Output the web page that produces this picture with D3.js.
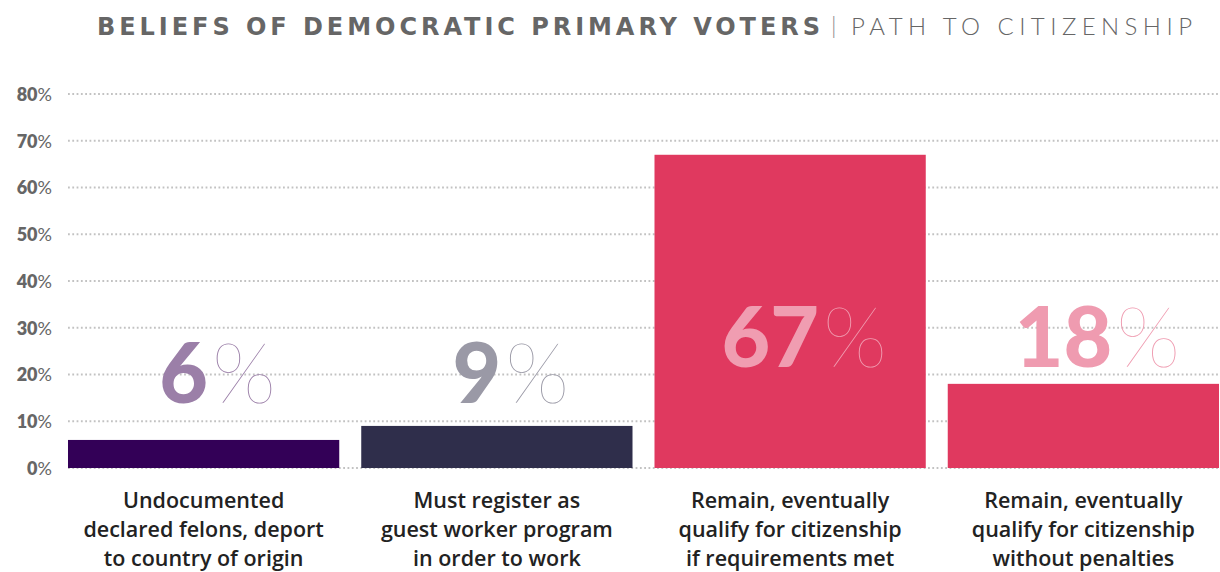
<!DOCTYPE html>
<html>
<head>
<meta charset="utf-8">
<script src="https://cdn.jsdelivr.net/npm/d3@7"></script>
<style>
  body { margin: 0; background: #fff; }
  svg { display: block; }
</style>
</head>
<body>
<svg id="chart"></svg>
<script>
// data
var categories = [
  ["Undocumented", "declared felons, deport", "to country of origin"],
  ["Must register as", "guest worker program", "in order to work"],
  ["Remain, eventually", "qualify for citizenship", "if requirements met"],
  ["Remain, eventually", "qualify for citizenship", "without penalties"]
];
var values = [6, 9, 67, 18];
var barColors = ["#330057", "#2f2e4b", "#e0395f", "#e0395f"];
var labelColors = ["#9b7fa8", "#9a99a6", "#f09db1", "#ef9bb0"];
var yTicks = [0, 10, 20, 30, 40, 50, 60, 70, 80];

var W = 1220, H = 572;
var svg = d3.select("#chart").attr("width", W).attr("height", H);

// scales
var x = d3.scaleBand()
  .domain(d3.range(values.length))
  .range([57, 1230])
  .paddingInner(0.075)
  .paddingOuter(0.0375);
var y = d3.scaleLinear().domain([0, 80]).range([468, 94]);

// title
svg.append("text")
  .attr("x", 97).attr("y", 35)
  .attr("font-family", "'DejaVu Sans', sans-serif")
  .attr("font-size", "24px")
  .attr("font-weight", 700)
  .attr("fill", "#666")
  .attr("textLength", 723).attr("lengthAdjust", "spacing")
  .text("BELIEFS OF DEMOCRATIC PRIMARY VOTERS");
svg.append("text")
  .attr("x", 831).attr("y", 34)
  .attr("font-family", "Lato, sans-serif").attr("font-weight", 300)
  .attr("font-size", "23px").attr("fill", "#888")
  .text("|");
svg.append("text")
  .attr("x", 851).attr("y", 35)
  .attr("font-family", "Lato, sans-serif").attr("font-weight", 300)
  .attr("font-size", "24px").attr("fill", "#666")
  .attr("textLength", 341).attr("lengthAdjust", "spacing")
  .text("PATH TO CITIZENSHIP");

// gridlines
svg.append("g")
  .selectAll("line")
  .data(yTicks)
  .join("line")
  .attr("x1", 68).attr("x2", 1220)
  .attr("y1", d => y(d)).attr("y2", d => y(d))
  .attr("stroke", "#c2c2c2")
  .attr("stroke-width", 2)
  .attr("stroke-dasharray", "1.8,2.5");

// y axis labels
var yAxis = d3.axisLeft(y).tickValues(yTicks).tickSize(0).tickPadding(0)
  .tickFormat(d => d);
var yg = svg.append("g").attr("transform", "translate(52,0)").call(yAxis);
yg.select(".domain").remove();
yg.selectAll("text")
  .attr("font-family", "Lato, sans-serif")
  .attr("font-size", "18px")
  .attr("font-weight", 800)
  .attr("fill", "#666")
  .attr("dy", "0.36em")
  .text(null)
  .each(function(d) {
    var t = d3.select(this);
    t.append("tspan").text(d);
    t.append("tspan").attr("font-weight", 400).text("%");
  });

// bars
svg.append("g")
  .selectAll("rect")
  .data(values)
  .join("rect")
  .attr("x", (d, i) => x(i))
  .attr("y", d => y(d))
  .attr("width", x.bandwidth())
  .attr("height", d => y(0) - y(d))
  .attr("fill", (d, i) => barColors[i]);

// value labels
var vl = svg.append("g")
  .selectAll("text")
  .data(values)
  .join("text")
  .attr("x", (d, i) => x(i) + x.bandwidth() / 2 + 14)
  .attr("y", (d, i) => i < 2 ? y(13.9) : y(21.6))
  .attr("text-anchor", "middle")
  .attr("font-family", "Lato, sans-serif")
  .attr("font-size", "84px")
  .attr("fill", (d, i) => labelColors[i]);
vl.append("tspan").attr("font-weight", 900).text(d => d);
vl.append("tspan").attr("font-weight", 100).attr("dx", 4).text("%");

// category labels
svg.append("g")
  .selectAll("text")
  .data(categories)
  .join("text")
  .attr("x", (d, i) => x(i) + x.bandwidth() / 2)
  .attr("y", 508)
  .attr("text-anchor", "middle")
  .attr("font-family", "'Open Sans', sans-serif")
  .attr("font-size", "21.5px")
  .attr("font-weight", 600)
  .attr("fill", "#222")
  .selectAll("tspan")
  .data(d => d)
  .join("tspan")
  .attr("x", function() { return this.parentNode.getAttribute("x"); })
  .attr("dy", (d, i) => i === 0 ? 0 : 29)
  .text(d => d);
</script>
</body>
</html>
